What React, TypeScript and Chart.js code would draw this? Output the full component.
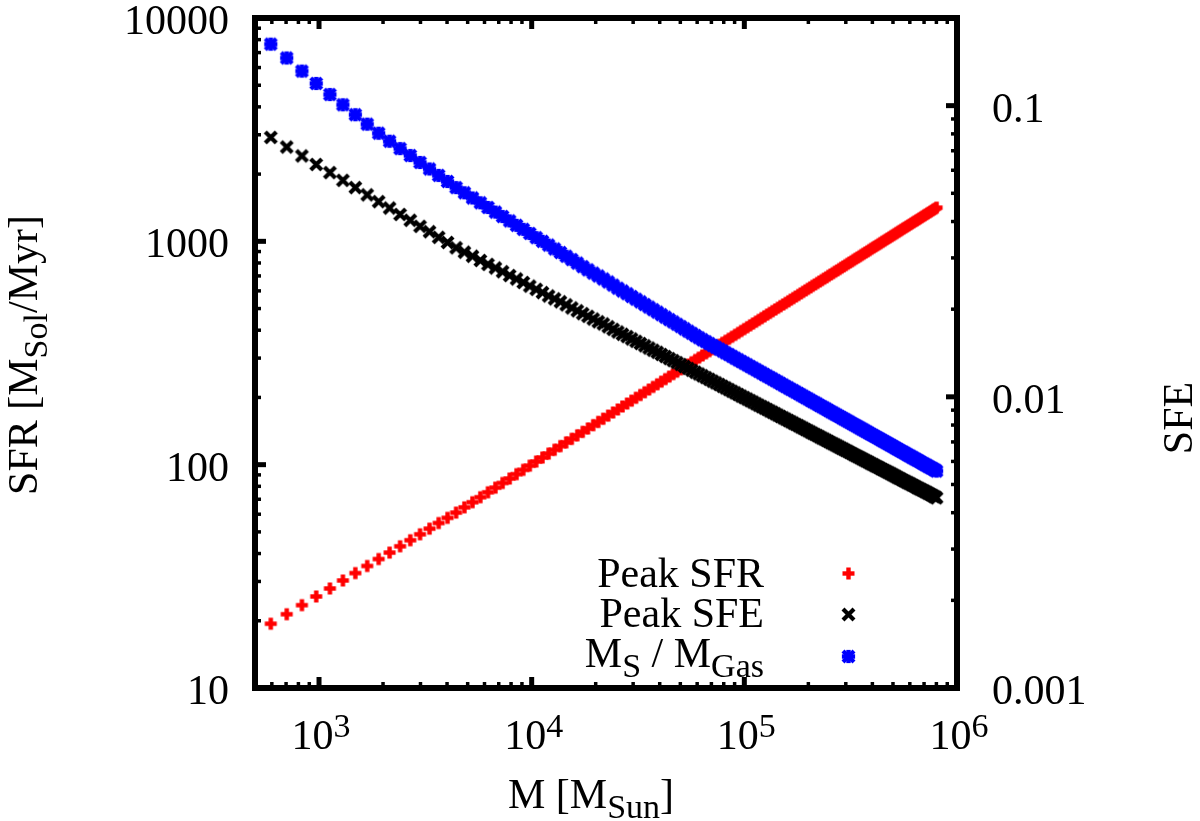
import React, { useEffect, useRef } from "react";
import { Chart, registerables } from "chart.js";

Chart.register(...registerables);

// cluster mass [M_Sun], one entry per plotted marker (shared by all three series)
const massSun = [
  593, 705, 831, 970, 1125, 1295, 1482, 1685, 1907, 2147,
  2406, 2686, 2986, 3308, 3652, 4020, 4411, 4827, 5268, 5735,
  6230, 6751, 7301, 7881, 8490, 9129, 9800, 10503, 11239, 12009,
  12813, 13652, 14527, 15438, 16387, 17374, 18400, 19465, 20571, 21718,
  22906, 24138, 25412, 26731, 28094, 29504,
  30960, 32460, 34010, 35610, 37260, 38960, 40710, 42510, 44360, 46270,
  48230, 50240, 52310, 54440, 56620, 58860, 61160, 63520, 65940, 68420,
  70960, 73560, 76230, 78950, 81750, 84600, 87530, 90520, 93580, 96700,
  99900, 103200, 106500, 109900, 113400, 116900, 120600, 124300, 128000, 131900,
  135800, 139800, 143900, 148000, 152300, 156600, 161000, 165500, 170000, 174700,
  179400, 184200, 189100, 194100, 199200, 204300, 209600, 214900, 220300, 225900,
  231500, 237200, 243000, 248900, 254800, 260900, 267100, 273400, 279700, 286200,
  292800, 299400, 306200, 313000, 320000, 327100, 334300, 341500, 348900, 356400,
  364000, 371700, 379500, 387400, 395400, 403600, 411800, 420200, 428700, 437200,
  445900, 454800, 463700, 472700, 481900, 491200, 500600, 510100, 519700, 529500,
  539400, 549400, 559500, 569700, 580100, 590600, 601200, 612000, 622800, 633800,
  645000, 656200, 667600, 679200, 690800, 702600, 714500, 726600, 738800, 751100,
  763600, 776200, 788900, 801800,
];

// Peak SFR [M_Sol/Myr], left axis
const peakSfr = [
  19.4, 21.4, 23.5, 25.7, 27.9, 30.3, 32.7, 35.2, 37.8, 40.4,
  43.1, 45.9, 48.8, 51.7, 54.8, 57.8, 61.0, 64.4, 67.9, 71.5,
  75.2, 78.9, 82.8, 86.7, 90.7, 94.8, 99.0, 103.3, 107.6, 112.1,
  116.6, 121.1, 125.8, 130.5, 135.3, 140.3, 145.2, 150.3, 155.4, 160.6,
  165.9, 171.3, 176.7, 182.2, 187.8, 193.5,
  199.3, 205.1, 211.0, 217.0, 223.0, 229.1, 235.3, 241.6, 247.9, 254.4,
  260.8, 267.4, 274.1, 280.8, 287.6, 294.4, 301.4, 308.3, 315.3, 322.4,
  329.5, 336.7, 344.0, 351.3, 358.7, 366.2, 373.8, 381.4, 389.1, 396.9,
  404.7, 412.6, 420.6, 428.6, 436.7, 444.9, 453.1, 461.4, 469.8, 478.2,
  486.7, 495.3, 503.9, 512.6, 521.4, 530.2, 539.1, 548.1, 557.1, 566.2,
  575.4, 584.6, 593.9, 603.3, 612.7, 622.2, 631.8, 641.4, 651.1, 660.9,
  670.7, 680.6, 690.5, 700.5, 710.6, 720.7, 730.9, 741.2, 751.5, 761.9,
  772.3, 782.8, 793.4, 804.1, 814.8, 825.5, 836.4, 847.3, 858.2, 869.2,
  880.3, 891.5, 902.6, 913.9, 925.2, 936.6, 948.1, 959.6, 971.2, 982.8,
  994.5, 1006, 1018, 1030, 1042, 1054, 1066, 1078, 1090, 1103,
  1115, 1127, 1140, 1152, 1165, 1177, 1190, 1203, 1216, 1229,
  1241, 1254, 1267, 1281, 1294, 1307, 1320, 1334, 1347, 1360,
  1374, 1388, 1401, 1415,
];

// Peak SFE, right axis
const peakSfe = [
  0.0778, 0.0721, 0.0672, 0.0628, 0.0589, 0.0554, 0.0523, 0.0494, 0.0468, 0.0445,
  0.0423, 0.0404, 0.0385, 0.0369, 0.0353, 0.0339, 0.0325, 0.0314, 0.0304, 0.0294,
  0.0285, 0.0277, 0.0269, 0.0261, 0.0254, 0.0247, 0.024, 0.0234, 0.0228, 0.0222,
  0.0217, 0.0212, 0.0207, 0.0202, 0.01975, 0.0193, 0.0189, 0.0185, 0.0181, 0.0178,
  0.0174, 0.01705, 0.0167, 0.0164, 0.0161, 0.0158,
  0.01551, 0.01524, 0.01497, 0.01471, 0.01446, 0.01422, 0.01398, 0.01375, 0.01353, 0.01332,
  0.01311, 0.01291, 0.01271, 0.01252, 0.01233, 0.01215, 0.01198, 0.01181, 0.01164, 0.01148,
  0.01132, 0.01117, 0.01102, 0.01087, 0.01073, 0.01059, 0.01045, 0.01032, 0.01019, 0.01006,
  0.00994, 0.00982, 0.0097, 0.00959, 0.00947, 0.00936, 0.00925, 0.00915, 0.00905, 0.00894,
  0.00885, 0.00875, 0.00865, 0.00856, 0.00847, 0.00838, 0.00829, 0.00821, 0.00812, 0.00804,
  0.00796, 0.00788, 0.0078, 0.00772, 0.00765, 0.00757, 0.0075, 0.00743, 0.00736, 0.00729,
  0.00722, 0.00716, 0.00709, 0.00703, 0.00696, 0.0069, 0.00684, 0.00678, 0.00672, 0.00666,
  0.00661, 0.00655, 0.0065, 0.00644, 0.00639, 0.00633, 0.00628, 0.00623, 0.00618, 0.00613,
  0.00608, 0.00603, 0.00599, 0.00594, 0.00589, 0.00585, 0.0058, 0.00576, 0.00572, 0.00567,
  0.00563, 0.00559, 0.00555, 0.00551, 0.00547, 0.00543, 0.00539, 0.00535, 0.00531, 0.00527,
  0.00524, 0.0052, 0.00516, 0.00513, 0.00509, 0.00506, 0.00503, 0.00499, 0.00496, 0.00493,
  0.00489, 0.00486, 0.00483, 0.0048, 0.00477, 0.00474, 0.00471, 0.00468, 0.00465, 0.00462,
  0.00459, 0.00456, 0.00453, 0.0045,
];

// M_S / M_Gas, right axis
const starGasRatio = [
  0.1626, 0.1458, 0.1314, 0.1192, 0.1092, 0.1007, 0.0931, 0.0864, 0.0804, 0.0755,
  0.0712, 0.0674, 0.0638, 0.0606, 0.0576, 0.0549, 0.0523, 0.0502, 0.0482, 0.0464,
  0.0447, 0.0431, 0.0416, 0.0402, 0.0388, 0.0376, 0.0364, 0.0352, 0.0342, 0.0332,
  0.0322, 0.0313, 0.0304, 0.0296, 0.0288, 0.028, 0.0273, 0.0266, 0.026, 0.0254,
  0.0248, 0.0242, 0.0236, 0.0231, 0.0226, 0.0221,
  0.02164, 0.02119, 0.02075, 0.02033, 0.01992, 0.01953, 0.01915, 0.01878, 0.01842, 0.01808,
  0.01775, 0.01743, 0.01711, 0.01681, 0.01652, 0.01623, 0.01596, 0.0157, 0.01547, 0.01523,
  0.01501, 0.01479, 0.01458, 0.01437, 0.01416, 0.01397, 0.01377, 0.01358, 0.0134, 0.01322,
  0.01305, 0.01288, 0.01271, 0.01255, 0.01239, 0.01223, 0.01208, 0.01193, 0.01179, 0.01165,
  0.01151, 0.01137, 0.01124, 0.01111, 0.01098, 0.01085, 0.01073, 0.01061, 0.0105, 0.01038,
  0.01027, 0.01016, 0.01005, 0.00994, 0.00984, 0.00973, 0.00963, 0.00954, 0.00944, 0.00934,
  0.00925, 0.00916, 0.00907, 0.00898, 0.00889, 0.00881, 0.00872, 0.00864, 0.00856, 0.00848,
  0.0084, 0.00833, 0.00825, 0.00818, 0.0081, 0.00803, 0.00796, 0.00789, 0.00782, 0.00775,
  0.00769, 0.00762, 0.00756, 0.00749, 0.00743, 0.00737, 0.00731, 0.00725, 0.00719, 0.00713,
  0.00707, 0.00702, 0.00696, 0.00691, 0.00685, 0.0068, 0.00675, 0.00669, 0.00664, 0.00659,
  0.00654, 0.00649, 0.00645, 0.0064, 0.00635, 0.0063, 0.00626, 0.00621, 0.00617, 0.00612,
  0.00608, 0.00604, 0.006, 0.00595, 0.00591, 0.00587, 0.00583, 0.00579, 0.00575, 0.00571,
  0.00568, 0.00564, 0.0056, 0.00556,
];

const massTicks = [1e3, 1e4, 1e5, 1e6];
const massTickExp = ["3", "4", "5", "6"];
const massMinorTicks = [
  600, 700, 800, 900, 2000, 3000, 4000, 5000, 6000, 7000, 8000, 9000,
  20000, 30000, 40000, 50000, 60000, 70000, 80000, 90000,
  200000, 300000, 400000, 500000, 600000, 700000, 800000, 900000,
];
const sfrTicks = [10, 100, 1000, 10000];
const sfrMinorTicks = [
  20, 30, 40, 50, 60, 70, 80, 90, 200, 300, 400, 500, 600, 700, 800, 900,
  2000, 3000, 4000, 5000, 6000, 7000, 8000, 9000,
];
const sfeTicks = [0.001, 0.01, 0.1];
const sfeTickLabels = ["0.001", "0.01", "0.1"];
const sfeMinorTicks = [
  0.002, 0.003, 0.004, 0.005, 0.006, 0.007, 0.008, 0.009,
  0.02, 0.03, 0.04, 0.05, 0.06, 0.07, 0.08, 0.09,
];

const FONT = '"Liberation Serif", "Times New Roman", Times, serif';
const BIG = 42;
const SMALL = 34;

type Part = { text: string; sub?: boolean; sup?: boolean };

const partFont = (p: Part) => `${p.sub || p.sup ? SMALL : BIG}px ${FONT}`;

function drawRich(ctx: CanvasRenderingContext2D, parts: Part[], x: number, y: number, align: string) {
  let w = 0;
  for (const p of parts) {
    ctx.font = partFont(p);
    w += ctx.measureText(p.text).width;
  }
  let cx = align === "left" ? x : align === "center" ? x - w / 2 : x - w;
  ctx.textAlign = "left";
  ctx.textBaseline = "alphabetic";
  for (const p of parts) {
    ctx.font = partFont(p);
    const dy = p.sub ? 10 : p.sup ? -12 : 0;
    ctx.fillText(p.text, cx, y + dy);
    cx += ctx.measureText(p.text).width;
  }
}

// gnuplot-like point glyphs, used as chart.js image point styles
function makeMarker(kind: string, color: string) {
  const size = 19;
  const c = document.createElement("canvas");
  c.width = size;
  c.height = size;
  const g = c.getContext("2d")!;
  const m = size / 2;
  g.fillStyle = color;
  g.strokeStyle = color;
  if (kind === "plus" || kind === "star") {
    const arm = kind === "star" ? 6.6 : 6;
    const t = 4.4;
    g.fillRect(m - arm, m - t / 2, 2 * arm, t);
    g.fillRect(m - t / 2, m - arm, t, 2 * arm);
  }
  if (kind === "cross" || kind === "star") {
    const d = 5.5;
    g.lineWidth = 4.2;
    g.beginPath();
    g.moveTo(m - d, m - d);
    g.lineTo(m + d, m + d);
    g.moveTo(m - d, m + d);
    g.lineTo(m + d, m - d);
    g.stroke();
  }
  return c;
}

const seriesStyles = [
  { label: "Peak SFR", kind: "plus", color: "#ff0000" },
  { label: "Peak SFE", kind: "cross", color: "#000000" },
  { label: "M_S / M_Gas", kind: "star", color: "#0000ff" },
];

const legendParts: Part[][] = [
  [{ text: "Peak SFR" }],
  [{ text: "Peak SFE" }],
  [{ text: "M" }, { text: "S", sub: true }, { text: " / M" }, { text: "Gas", sub: true }],
];

function makeFrame(markers: HTMLCanvasElement[]) {
  return {
    id: "gnuplotFrame",
    afterDatasetsDraw(chart: any) {
      const { ctx, chartArea: a, scales } = chart;
      ctx.save();
      ctx.strokeStyle = "#000";
      ctx.lineCap = "butt";
      const seg = (x1: number, y1: number, x2: number, y2: number, w: number) => {
        ctx.lineWidth = w;
        ctx.beginPath();
        ctx.moveTo(x1, y1);
        ctx.lineTo(x2, y2);
        ctx.stroke();
      };
      const major = 11;
      const minor = 6;
      for (const v of massTicks) {
        const px = scales.x.getPixelForValue(v);
        seg(px, a.bottom, px, a.bottom - major, 5);
        seg(px, a.top, px, a.top + major, 5);
      }
      for (const v of massMinorTicks) {
        const px = scales.x.getPixelForValue(v);
        seg(px, a.bottom, px, a.bottom - minor, 3.5);
        seg(px, a.top, px, a.top + minor, 3.5);
      }
      for (const v of sfrTicks) {
        const py = scales.y.getPixelForValue(v);
        seg(a.left, py, a.left + major, py, 5);
      }
      for (const v of sfrMinorTicks) {
        const py = scales.y.getPixelForValue(v);
        seg(a.left, py, a.left + minor, py, 3.5);
      }
      for (const v of sfeTicks) {
        const py = scales.y2.getPixelForValue(v);
        seg(a.right, py, a.right - major, py, 5);
      }
      for (const v of sfeMinorTicks) {
        const py = scales.y2.getPixelForValue(v);
        seg(a.right, py, a.right - minor, py, 3.5);
      }
      ctx.lineWidth = 6;
      ctx.strokeRect(a.left, a.top, a.right - a.left, a.bottom - a.top);
      ctx.restore();
    },
    afterDraw(chart: any) {
      const { ctx, chartArea: a, scales } = chart;
      ctx.save();
      ctx.fillStyle = "#000";

      for (const v of sfrTicks) {
        const py = scales.y.getPixelForValue(v);
        drawRich(ctx, [{ text: String(v) }], 229, py + 16, "right");
      }
      sfeTicks.forEach((v, i) => {
        const py = scales.y2.getPixelForValue(v);
        drawRich(ctx, [{ text: sfeTickLabels[i] }], 992, py + 16, "left");
      });
      massTicks.forEach((v, i) => {
        const px = scales.x.getPixelForValue(v);
        drawRich(ctx, [{ text: "10" }, { text: massTickExp[i], sup: true }], px + 2, a.bottom + 61, "center");
      });

      drawRich(ctx, [{ text: "M [M" }, { text: "Sun", sub: true }, { text: "]" }], 591, 808, "center");

      ctx.save();
      ctx.translate(37, 355);
      ctx.rotate(-Math.PI / 2);
      drawRich(ctx, [{ text: "SFR [M" }, { text: "Sol", sub: true }, { text: "/Myr]" }], 0, 0, "center");
      ctx.restore();

      ctx.save();
      ctx.translate(1192, 418);
      ctx.rotate(-Math.PI / 2);
      drawRich(ctx, [{ text: "SFE" }], 0, 0, "center");
      ctx.restore();

      // key
      seriesStyles.forEach((s, i) => {
        const base = 587 + i * 40;
        drawRich(ctx, legendParts[i], 764, base, "right");
        const img = markers[i];
        ctx.drawImage(img, Math.round(848 - img.width / 2), Math.round(base - 14 + i * 1.5 - img.height / 2));
      });

      ctx.restore();
    },
  };
}

export default function App() {
  const canvasRef = useRef<HTMLCanvasElement>(null);

  useEffect(() => {
    if (!canvasRef.current) return;
    const series = [peakSfr, peakSfe, starGasRatio];
    const markers = seriesStyles.map((s) => makeMarker(s.kind, s.color));
    const chart = new Chart(canvasRef.current, {
      type: "scatter",
      data: {
        datasets: seriesStyles.map((s, i) => ({
          label: s.label,
          data: massSun.map((m, j) => ({ x: m, y: series[i][j] })),
          yAxisID: i === 0 ? "y" : "y2",
          showLine: false,
          pointStyle: markers[i] as any,
          pointRadius: 6,
          pointHoverRadius: 6,
          borderColor: s.color,
          backgroundColor: s.color,
          order: 3 - i,
        })),
      },
      options: {
        animation: false,
        responsive: true,
        maintainAspectRatio: false,
        events: [],
        layout: { padding: { top: 18, left: 0, right: 0, bottom: 0 } },
        plugins: {
          legend: { display: false },
          tooltip: { enabled: false },
        },
        scales: {
          x: {
            type: "logarithmic",
            position: "bottom",
            min: 500,
            max: 1e6,
            ticks: { display: false },
            grid: { display: false },
            border: { display: false },
            afterFit: (s: any) => {
              s.height = 133;
            },
          },
          y: {
            type: "logarithmic",
            position: "left",
            min: 10,
            max: 10000,
            ticks: { display: false },
            grid: { display: false },
            border: { display: false },
            afterFit: (s: any) => {
              s.width = 255;
            },
          },
          y2: {
            type: "logarithmic",
            position: "right",
            min: 0.001,
            max: 0.2,
            ticks: { display: false },
            grid: { display: false },
            border: { display: false },
            afterFit: (s: any) => {
              s.width = 243;
            },
          },
        },
      },
      plugins: [makeFrame(markers)],
    });
    return () => chart.destroy();
  }, []);

  return (
    <div style={{ position: "fixed", left: 0, top: 0, width: 1200, height: 821, background: "#fff" }}>
      <canvas ref={canvasRef} />
    </div>
  );
}
